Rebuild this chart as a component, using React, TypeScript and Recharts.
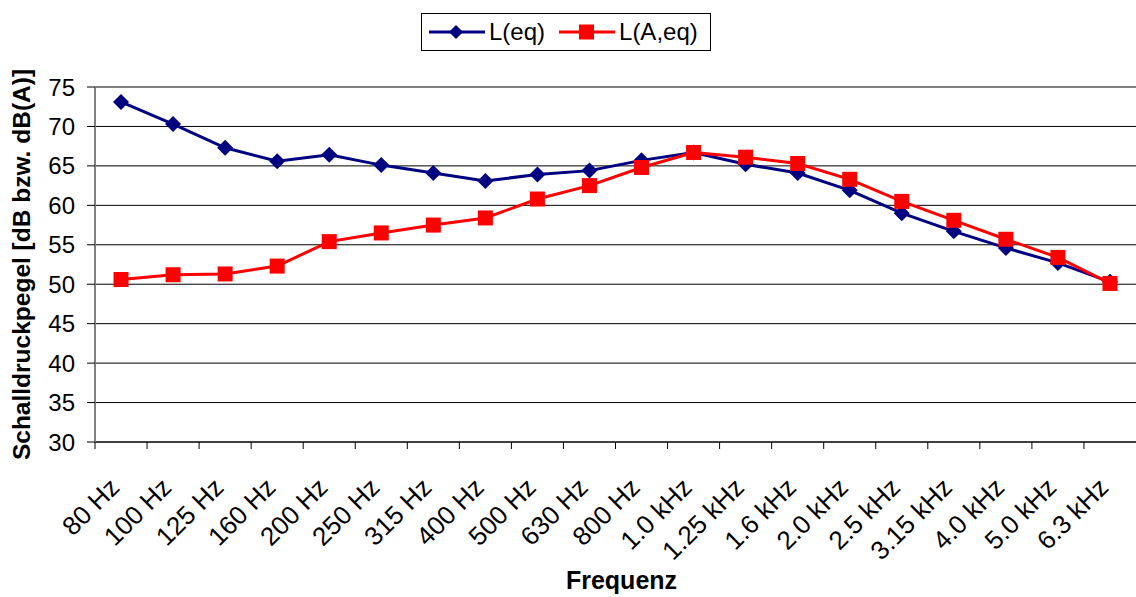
import React from "react";
import {
  LineChart,
  Line,
  XAxis,
  YAxis,
  CartesianGrid,
} from "recharts";

const bands = [
  "80 Hz", "100 Hz", "125 Hz", "160 Hz", "200 Hz", "250 Hz", "315 Hz",
  "400 Hz", "500 Hz", "630 Hz", "800 Hz", "1.0 kHz", "1.25 kHz", "1.6 kHz",
  "2.0 kHz", "2.5 kHz", "3.15 kHz", "4.0 kHz", "5.0 kHz", "6.3 kHz",
];

const leq = [
  73.1, 70.3, 67.3, 65.6, 66.4, 65.1, 64.1, 63.1, 63.9, 64.4,
  65.7, 66.7, 65.2, 64.1, 61.9, 59.0, 56.7, 54.6, 52.7, 50.3,
];

const laeq = [
  50.6, 51.2, 51.3, 52.3, 55.4, 56.5, 57.5, 58.4, 60.8, 62.5,
  64.8, 66.7, 66.1, 65.3, 63.3, 60.5, 58.1, 55.7, 53.4, 50.1,
];

const yTicks = [30, 35, 40, 45, 50, 55, 60, 65, 70, 75];

const NAVY = "#000080";
const RED = "#FF0000";
const FONT = "'Liberation Sans', Arial, sans-serif";

const W = 1136;
const H = 597;
const PLOT_LEFT = 95;
const BAND = (W - PLOT_LEFT) / bands.length;

const data = bands.map((b, i) => ({ band: b, leq: leq[i], laeq: laeq[i] }));

// Raute als Marker
const Diamond = (props: any) => {
  const { cx, cy } = props;
  if (cx == null || cy == null) return null;
  const r = 8;
  return (
    <path
      d={`M${cx},${cy - r} L${cx + r},${cy} L${cx},${cy + r} L${cx - r},${cy} Z`}
      fill={NAVY}
    />
  );
};

// Quadrat als Marker
const Square = (props: any) => {
  const { cx, cy } = props;
  if (cx == null || cy == null) return null;
  const s = 15;
  return <rect x={cx - s / 2} y={cy - s / 2} width={s} height={s} fill={RED} />;
};

// Beschriftung schräg, Teilstriche zwischen den Kategorien
const XTick = (props: any) => {
  const { x, y, payload } = props;
  const axisY = y - 9;
  const tx = x;
  const ty = axisY + 47;
  return (
    <g>
      <line x1={x - BAND / 2} y1={axisY} x2={x - BAND / 2} y2={axisY + 7} stroke="#000" />
      <text
        x={tx}
        y={ty}
        transform={`rotate(-45, ${tx}, ${ty})`}
        textAnchor="end"
        fontSize={26}
        fontFamily={FONT}
        fill="#000"
      >
        {payload.value}
      </text>
    </g>
  );
};

const LegendBox = () => (
  <div
    style={{
      position: "absolute",
      left: 421,
      top: 13,
      width: 290,
      height: 38,
      border: "1px solid #000",
      boxSizing: "border-box",
      background: "#fff",
      fontFamily: FONT,
      fontSize: 24,
      display: "flex",
      alignItems: "center",
      paddingLeft: 7,
    }}
  >
    <svg width={56} height={20}>
      <line x1={0} y1={10} x2={56} y2={10} stroke={NAVY} strokeWidth={3} />
      <path d="M27,3 L34,10 L27,17 L20,10 Z" fill={NAVY} />
    </svg>
    <span style={{ marginLeft: 4, marginRight: 14 }}>L(eq)</span>
    <svg width={56} height={20}>
      <line x1={0} y1={10} x2={56} y2={10} stroke={RED} strokeWidth={3} />
      <rect x={20} y={2.5} width={15} height={15} fill={RED} />
    </svg>
    <span style={{ marginLeft: 4 }}>L(A,eq)</span>
  </div>
);

export default function App() {
  return (
    <div style={{ position: "absolute", left: 0, top: 0, width: W, height: H, background: "#fff" }}>
      <LineChart
        width={W}
        height={H}
        data={data}
        margin={{ top: 87, right: 0, bottom: 0, left: 0 }}
      >
        <CartesianGrid vertical={false} stroke="#000" strokeWidth={1} />
        <XAxis
          dataKey="band"
          interval={0}
          padding={{ left: BAND / 2, right: BAND / 2 }}
          tick={<XTick />}
          axisLine={{ stroke: "#000", strokeWidth: 1 }}
          tickLine={false}
          tickSize={7}
          tickMargin={2}
          height={H - 442}
          label={{
            value: "Frequenz",
            position: "insideBottom",
            offset: 8,
            dx: 6,
            style: { fontFamily: FONT, fontSize: 25, fontWeight: "bold", fill: "#000" },
          }}
        />
        <YAxis
          domain={[30, 75]}
          ticks={yTicks}
          interval={0}
          width={PLOT_LEFT}
          axisLine={{ stroke: "#808080", strokeWidth: 2 }}
          tickLine={{ stroke: "#000" }}
          tickSize={8}
          tickMargin={12}
          tick={{ fontSize: 24, fontFamily: FONT, fill: "#000" }}
          label={{
            value: "Schalldruckpegel [dB bzw. dB(A)]",
            angle: -90,
            position: "insideLeft",
            offset: 21,
            style: {
              fontFamily: FONT,
              fontSize: 24.5,
              fontWeight: "bold",
              fill: "#000",
              textAnchor: "middle",
            },
          }}
        />
        <Line
          type="linear"
          dataKey="leq"
          name="L(eq)"
          stroke={NAVY}
          strokeWidth={3}
          dot={<Diamond />}
          activeDot={false}
          isAnimationActive={false}
        />
        <Line
          type="linear"
          dataKey="laeq"
          name="L(A,eq)"
          stroke={RED}
          strokeWidth={3}
          dot={<Square />}
          activeDot={false}
          isAnimationActive={false}
        />
      </LineChart>
      <LegendBox />
    </div>
  );
}
